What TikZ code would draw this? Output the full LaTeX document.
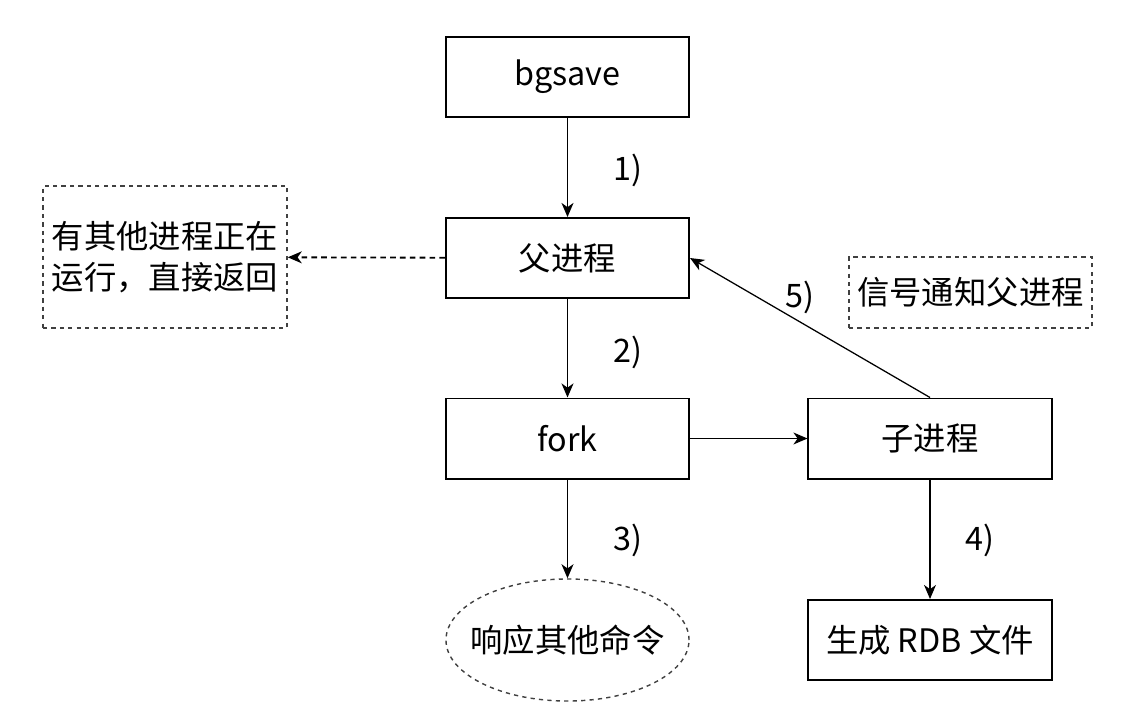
\documentclass[tikz,border=0pt]{standalone}
\usepackage{fontspec}
\setmainfont{Noto Sans CJK SC}
\usetikzlibrary{arrows.meta,shapes.geometric}
\tikzset{
  procbox/.style={draw, line width=1.4pt, minimum width=6.075cm, minimum height=2cm, inner sep=0pt},
  notebox/.style={draw=black!75, dashed, line width=1pt, inner sep=0pt},
  flow/.style={line width=1.3pt, -{Stealth[length=10pt,width=8.5pt,inset=3pt]}},
  steplabel/.style={inner sep=0pt}
}
\begin{document}
\begin{tikzpicture}[x=0.025cm, y=-0.025cm, font=\fontsize{23}{29}\selectfont]
			%%%%% START %%%%%
			\useasboundingbox (0, 0) rectangle (1140, 726);
			
			\node[procbox] (bgsave) at (567.5, 77) {bgsave};
			\node[procbox] (parent) at (567.5, 258) {父进程};
			\node[procbox] (fork) at (567.5, 438.5) {fork};
			\node[procbox] (child) at (930, 438.5) {子进程};
			\node[procbox] (rdb) at (930, 640) {生成 RDB 文件};
			\node[ellipse, notebox, minimum width=6.075cm, minimum height=3.05cm,
			      label={[name=replytext, inner sep=0pt]center:响应其他命令}] (reply) at (567.5, 640) {};
			
			\node[notebox, minimum width=6.1cm, minimum height=3.55cm, align=left] (busy) at (165, 257) {有其他进程正在\\运行，直接返回};
			\node[notebox, minimum width=6.075cm, minimum height=1.775cm] (notify) at (970.5, 292.5) {信号通知父进程};
			
			\draw[flow] (bgsave) -- (parent);
			\draw[flow] (parent) -- (fork);
			\draw[flow] (fork) -- (reply);
			\draw[flow, line width=0.9pt] (fork) -- (child);
			\draw[flow, line width=0.9pt] (child) -- (rdb);
			\draw[flow, line width=0.9pt] (child.north) -- (parent.east);
			\draw[flow, dash pattern=on 4pt off 3pt] (parent) -- (busy);
			
			\node[steplabel] (s1) at (628, 170) {1)};
			\node[steplabel] (s2) at (628, 352) {2)};
			\node[steplabel] (s3) at (628, 540) {3)};
			\node[steplabel] (s4) at (980, 540) {4)};
			\node[steplabel] (s5) at (800, 297) {5)};
			%%%%% END %%%%%
\end{tikzpicture}
\end{document}
